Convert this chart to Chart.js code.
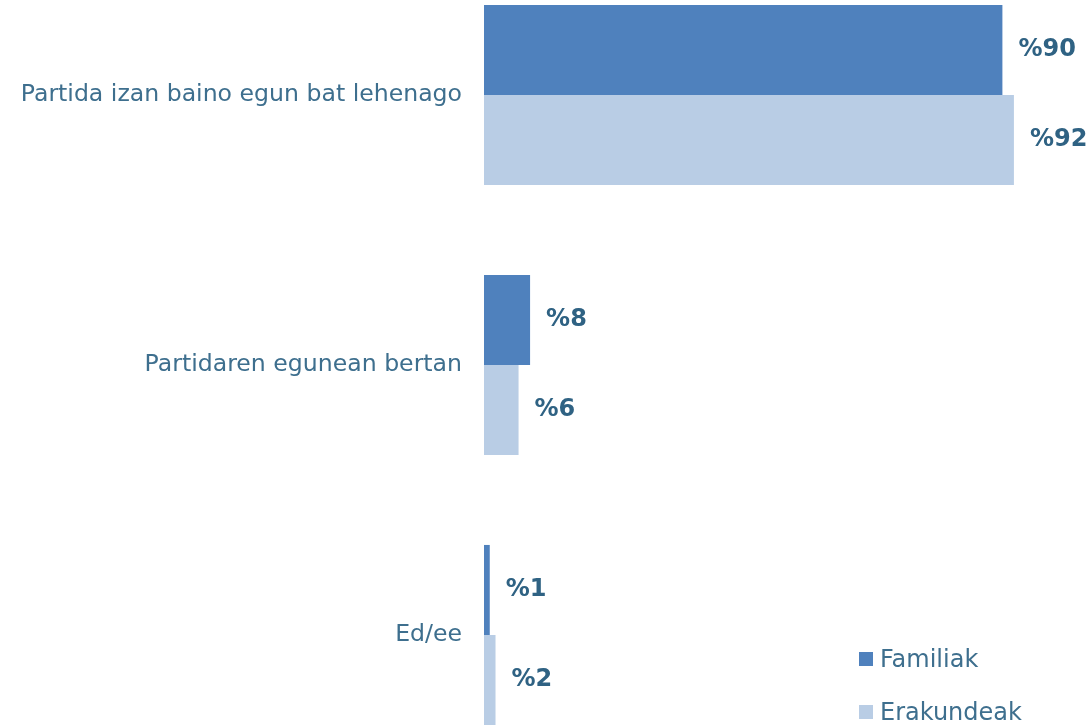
<!DOCTYPE html>
<html>
<head>
<meta charset="utf-8">
<script src="https://cdn.jsdelivr.net/npm/chart.js@4/dist/chart.umd.min.js"></script>
<style>
  html, body { margin: 0; padding: 0; background: #fff; }
  #wrap { position: relative; width: 1092px; height: 727px; }
  #legend { position: absolute; left: 859px; top: 644px; font-family: "DejaVu Sans", sans-serif; font-size: 24px; color: #3E6F8E; }
  #legend div { height: 53px; line-height: 30px; white-space: nowrap; }
  #legend span.box { display: inline-block; width: 14px; height: 14px; margin-right: 7px; vertical-align: 1px; }
</style>
</head>
<body>
<div id="wrap">
  <canvas id="myChart" width="1092" height="727"></canvas>
  <div id="legend"></div>
</div>
<script>
const categories = ['Partida izan baino egun bat lehenago', 'Partidaren egunean bertan', 'Ed/ee']
const familiak = [90, 8, 1]
const erakundeak = [92, 6, 2]
const seriesNames = ['Familiak', 'Erakundeak']
const colors = ['#4F81BD', '#B9CDE5']

// labels at the end of each bar, like "%90"
const valueLabels = {
  id: 'valueLabels',
  afterDatasetsDraw(chart) {
    const ctx = chart.ctx
    ctx.save()
    ctx.font = 'bold 24px "DejaVu Sans", sans-serif'
    ctx.fillStyle = '#2F6283'
    ctx.textAlign = 'left'
    ctx.textBaseline = 'middle'
    chart.data.datasets.forEach(function(ds, i) {
      chart.getDatasetMeta(i).data.forEach(function(bar, j) {
        ctx.fillText('%' + ds.data[j], bar.x + 16, bar.y)
      })
    })
    ctx.restore()
  }
}

const ctx = document.getElementById('myChart').getContext('2d')
const myChart = new Chart(ctx, {
  type: 'bar',
  data: {
    labels: categories,
    datasets: [{
      label: seriesNames[0],
      data: familiak,
      backgroundColor: colors[0],
      clip: false
    }, {
      label: seriesNames[1],
      data: erakundeak,
      backgroundColor: colors[1],
      clip: false
    }]
  },
  options: {
    indexAxis: 'y',
    responsive: false,
    animation: false,
    categoryPercentage: 0.667,
    barPercentage: 1.0,
    layout: {
      padding: { top: 95, bottom: 92, left: 0, right: 32 }
    },
    scales: {
      x: { display: false, min: 0, max: 100 },
      y: {
        offset: false,
        grid: { display: false },
        border: { display: false },
        afterFit: function(axis) { axis.width = 484 },
        ticks: {
          padding: 14,
          color: '#3E6F8E',
          font: { family: '"DejaVu Sans", sans-serif', size: 23.6 }
        }
      }
    },
    plugins: {
      legend: { display: false },
      tooltip: { enabled: false }
    }
  },
  plugins: [valueLabels]
})

const legend = document.getElementById('legend')
seriesNames.forEach(function(name, i) {
  const row = document.createElement('div')
  row.innerHTML = '<span class="box" style="background:' + colors[i] + '"></span>' + name
  legend.appendChild(row)
})
</script>
</body>
</html>
